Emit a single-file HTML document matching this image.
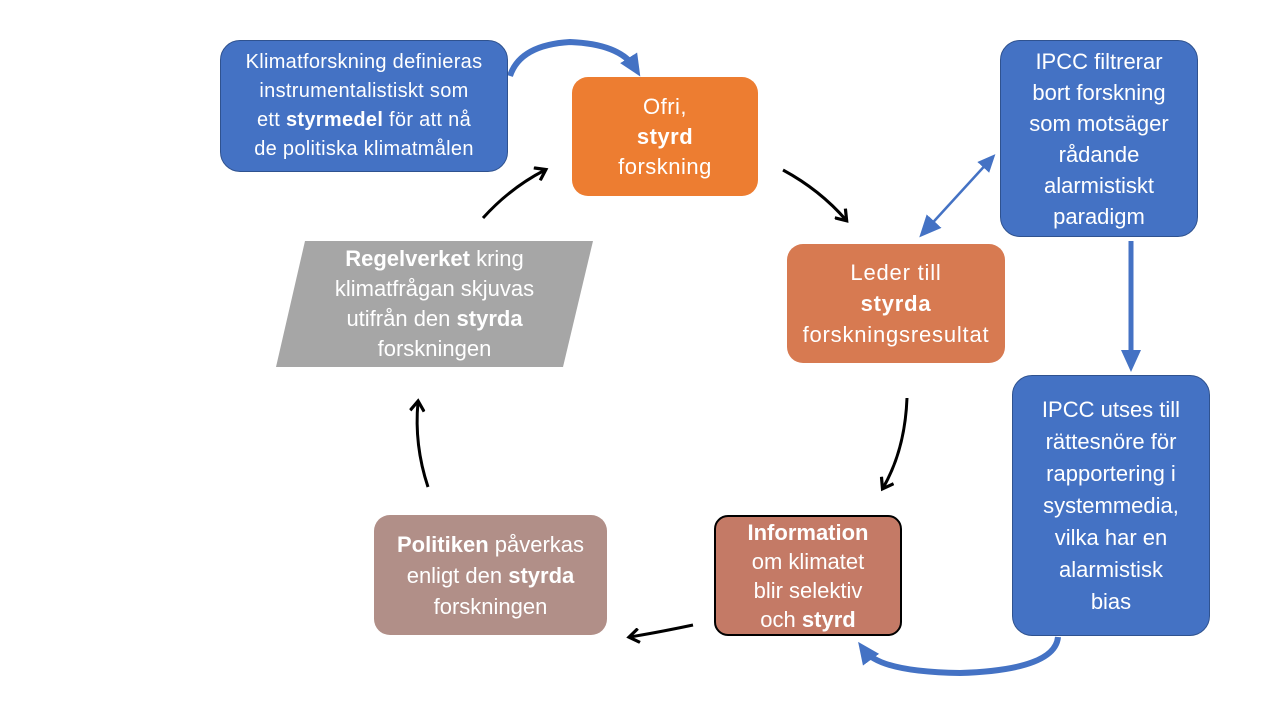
<!DOCTYPE html>
<html><head><meta charset="utf-8"><style>
body{margin:0;width:1280px;height:720px;background:#fff;position:relative;overflow:hidden;font-family:"Liberation Sans",Calibri,sans-serif;}
.b{position:absolute;box-sizing:border-box;display:flex;align-items:center;justify-content:center;text-align:center;color:#fff;font-size:22px;line-height:31px;}
.b>div{width:100%;white-space:nowrap}
.blue{background:#4472c4;border:1px solid #2f528f;border-radius:20px;}
b{font-weight:bold}
</style></head><body>
<svg width="1280" height="720" style="position:absolute;left:0;top:0">
<defs>
<marker id="ak" markerWidth="16" markerHeight="16" refX="10" refY="8" orient="auto" markerUnits="userSpaceOnUse"><path d="M1,1 L11,8 L1,15" fill="none" stroke="#000" stroke-width="3.2"/></marker>
<marker id="ab" markerWidth="24" markerHeight="24" refX="12" refY="12" orient="auto" markerUnits="userSpaceOnUse"><path d="M0,2 L22,12 L0,22 z" fill="#4472c4"/></marker>
<marker id="abs" markerWidth="20" markerHeight="20" refX="10" refY="10" orient="auto-start-reverse" markerUnits="userSpaceOnUse"><path d="M0,2 L18,10 L0,18 z" fill="#4472c4"/></marker>
</defs>
<polygon points="305,241 593,241 563,367 276,367" fill="#a6a6a6"/>
<g stroke="#000" stroke-width="3" fill="none" marker-end="url(#ak)">
<path d="M483,218 Q510,188 545,170"/>
<path d="M783,170 Q820,190 846,220"/>
<path d="M907,398 Q905,450 883,488"/>
<path d="M693,625 Q660,632 630,637"/>
<path d="M428,487 Q414,445 418,402"/>
</g>
<path d="M510,76 Q520,45 570,42 Q620,44 635,68" stroke="#4472c4" stroke-width="6" fill="none" marker-end="url(#ab)"/>
<line x1="990" y1="160" x2="926" y2="230" stroke="#4472c4" stroke-width="2.5" marker-start="url(#abs)" marker-end="url(#ab)"/>
<line x1="1131" y1="241" x2="1131" y2="362" stroke="#4472c4" stroke-width="5" marker-end="url(#ab)"/>
<path d="M1058,637 Q1055,670 960,673 Q880,672 864,650" stroke="#4472c4" stroke-width="6" fill="none" marker-end="url(#ab)"/>
</svg>
<div class="b blue" style="left:220px;top:40px;width:288px;height:132px;font-size:20px;letter-spacing:0.3px;line-height:29px"><div>Klimatforskning definieras<br>instrumentalistiskt som<br>ett <b>styrmedel</b> för att nå<br>de politiska klimatmålen</div></div>
<div class="b" style="left:572px;top:77px;width:186px;height:119px;background:#ed7d31;border-radius:16px;letter-spacing:0.5px;line-height:30px"><div>Ofri,<br><b>styrd</b><br>forskning</div></div>
<div class="b blue" style="left:1000px;top:40px;width:198px;height:197px;line-height:31px"><div>IPCC filtrerar<br>bort forskning<br>som motsäger<br>rådande<br>alarmistiskt<br>paradigm</div></div>
<div class="b" style="left:787px;top:244px;width:218px;height:119px;background:#d77a51;border-radius:16px;letter-spacing:0.8px"><div>Leder till<br><b>styrda</b><br>forskningsresultat</div></div>
<div class="b" style="left:276px;top:241px;width:317px;height:126px;line-height:30px"><div><b>Regelverket</b> kring<br>klimatfrågan skjuvas<br>utifrån den <b>styrda</b><br>forskningen</div></div>
<div class="b blue" style="left:1012px;top:375px;width:198px;height:261px;line-height:32px"><div>IPCC utses till<br>rättesnöre för<br>rapportering i<br>systemmedia,<br>vilka har en<br>alarmistisk<br>bias</div></div>
<div class="b" style="left:714px;top:515px;width:188px;height:121px;background:#c47a66;border:2px solid #000;border-radius:14px;line-height:29px"><div><b>Information</b><br>om klimatet<br>blir selektiv<br>och <b>styrd</b></div></div>
<div class="b" style="left:374px;top:515px;width:233px;height:120px;background:#b18f88;border-radius:16px"><div><b>Politiken</b> påverkas<br>enligt den <b>styrda</b><br>forskningen</div></div>
</body></html>
